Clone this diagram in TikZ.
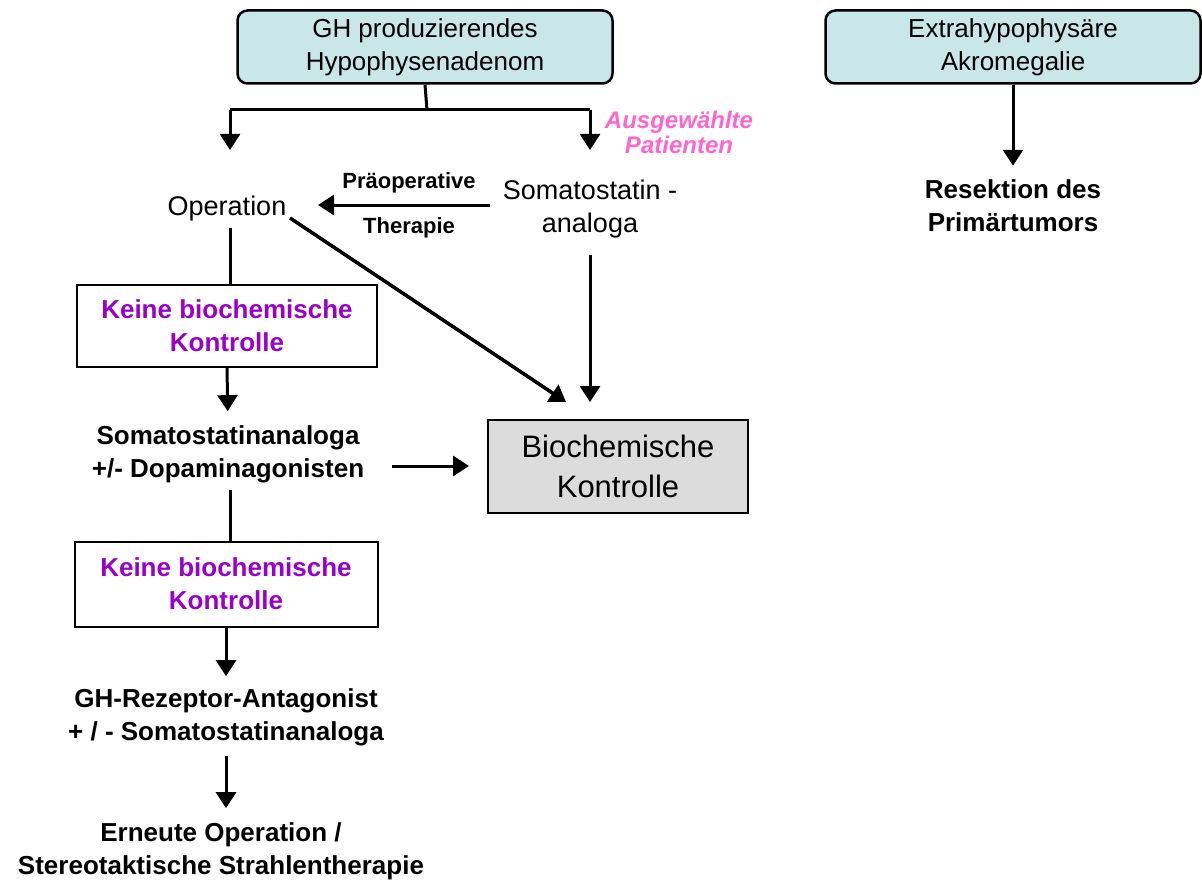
\documentclass[tikz,border=0pt]{standalone}
\usepackage{fontspec}
\setmainfont{Liberation Sans}
\usetikzlibrary{arrows.meta}
\definecolor{topfill}{HTML}{C9E6E8}
\definecolor{biofill}{HTML}{DCDCDC}
\definecolor{kpurple}{HTML}{9900CC}
\definecolor{pinktxt}{HTML}{FF66CC}
\tikzset{
  topbox/.style={draw, line width=2.5pt, rounded corners=10pt, fill=topfill, minimum width=375pt, minimum height=73pt, align=center, font=\fontsize{26}{33}\selectfont},
  kbox/.style={draw, line width=2pt, fill=white, align=center, text=kpurple, font=\bfseries\fontsize{26}{33}\selectfont},
  btext/.style={align=center, inner sep=0pt, font=\bfseries\fontsize{26}{33}\selectfont},
  rtext/.style={align=center, inner sep=0pt, font=\fontsize{27}{33}\selectfont},
  ptext/.style={align=center, inner sep=0pt, font=\bfseries\fontsize{22}{26}\selectfont},
  arr/.style={line width=3pt, -{Triangle[length=16pt,width=20pt]}},
  ln/.style={line width=3pt}
}
\begin{document}
\begin{tikzpicture}[x=1pt,y=-1pt]
\useasboundingbox (0,0) rectangle (1202,888);
% top boxes
\node[topbox] (gh) at (425,47) {GH produzierendes\\Hypophysenadenom};
\node[topbox] (ex) at (1013,47) {Extrahypophysäre\\Akromegalie};
% texts
\node[rtext] (op) at (227,209) {Operation};
\node[rtext] (so) at (590,209) {Somatostatin -\\analoga};
\node[ptext] (pr) at (409,183) {Präoperative};
\node[ptext] (th) at (409,228) {Therapie};
\node[ptext, text=pinktxt, font=\bfseries\itshape\fontsize{24}{25}\selectfont] (au) at (679,132) {Ausgewählte\\Patienten};
\node[btext] (res) at (1013,206) {Resektion des\\Primärtumors};
\node[kbox, minimum width=300pt, minimum height=82pt] (k1) at (227,326) {Keine biochemische\\Kontrolle};
\node[btext] (sd) at (228,454) {Somatostatinanaloga\\+/- Dopaminagonisten};
\node[draw, line width=2pt, fill=biofill, minimum width=260pt, minimum height=93pt, align=center, font=\fontsize{31}{40}\selectfont] (bio) at (618,466) {Biochemische\\Kontrolle};
\node[kbox, minimum width=303pt, minimum height=85pt] (k2) at (226,584) {Keine biochemische\\Kontrolle};
\node[btext] (gr) at (226,717) {GH-Rezeptor-Antagonist\\+ / - Somatostatinanaloga};
\node[btext] (er) at (221,851) {Erneute Operation /\\Stereotaktische Strahlentherapie};
% coordinates
\coordinate (split) at (427,110);
\coordinate (sl) at (230,110);
\coordinate (sr) at (590,110);
\coordinate (opin) at (230,150);
\coordinate (soin) at (590,150);
\coordinate (soout) at (590,255);
\coordinate (bioin1) at (590,402);
\coordinate (opdiag) at (290,218);
\coordinate (bioin2) at (566,402);
\coordinate (leftin) at (318,205);
\coordinate (soleft) at (490,205);
\coordinate (opout) at (230,228);
\coordinate (k1in) at (230,285);
\coordinate (sdout) at (230,490);
\coordinate (k2in) at (230,542);
% connectors
\draw[ln] (gh.south) -- (split);
\draw[ln] (sl) -- (sr);
\draw[arr] (sl) -- (opin);
\draw[arr] (sr) -- (soin);
\draw[arr] (soleft) -- (leftin);
\draw[ln] (opout) -- (k1in);
\draw[arr, shorten >=14pt] (k1.south) -- (sd.north);
\draw[arr, shorten <=28pt, shorten >=18pt] (sd.east |- bio.center) -- (bio.west);
\draw[arr, line width=3.5pt] (opdiag) -- (bioin2);
\draw[arr] (soout) -- (bioin1);
\draw[ln] (sdout) -- (k2in);
\draw[arr, shorten >=12pt] (k2.south) -- (gr.north);
\draw[arr, shorten <=10pt, shorten >=14pt] (gr.south) -- (er.north -| gr.south);
\draw[arr, shorten >=14pt] (ex.south) -- (res.north);
\end{tikzpicture}
\end{document}
